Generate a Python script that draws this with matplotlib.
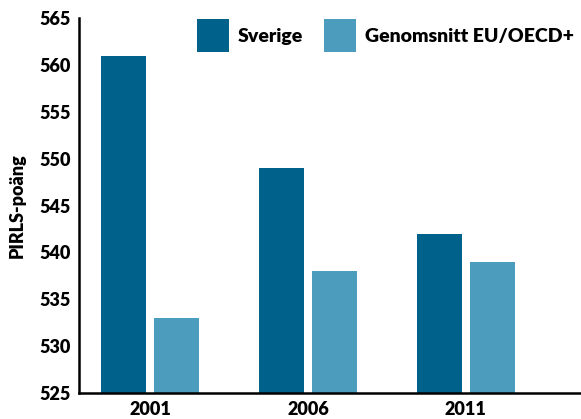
import numpy as np
import matplotlib.pyplot as plt

years = ['2001', '2006', '2011']
sverige = [561, 549, 542]
eu_oecd = [533, 538, 539]
names = ['Sverige', 'Genomsnitt EU/OECD+']

plt.rcParams.update({'font.family': ['Lato', 'DejaVu Sans'],
                     'font.weight': 'heavy',
                     'xtick.labelsize': 13,
                     'ytick.labelsize': 13})

fig = plt.figure(figsize=(5.81, 4.19), dpi=100)
ax = fig.add_axes([0.136, 0.062, 0.864, 0.895])

x = np.arange(len(years))
w = 0.285
ax.bar(x - 0.168, sverige, w, color='#00618A', label=names[0])
ax.bar(x + 0.168, eu_oecd, w, color='#4B9CBD', label=names[1])

ax.set_ylim(525, 565)
ax.set_yticks(range(525, 566, 5))
ax.set_xlim(-0.45, 2.73)
ax.set_xticks(x)
ax.set_xticklabels(years)
ax.tick_params(length=0, pad=6)
for lbl in ax.get_xticklabels() + ax.get_yticklabels():
    lbl.set_fontweight('heavy')

ax.set_ylabel('PIRLS-poäng', fontsize=13, fontweight='heavy', labelpad=10)

for s in ['top', 'right']:
    ax.spines[s].set_visible(False)
for s in ['left', 'bottom']:
    ax.spines[s].set_linewidth(1.8)

leg = ax.legend(ncol=2, loc='upper left', bbox_to_anchor=(0.2, 1.045),
                frameon=False, handlelength=1.65, handleheight=2.3,
                handletextpad=0.45, columnspacing=1.1,
                prop={'size': 14, 'weight': 'heavy'})

fig.savefig('out.png', dpi=100)
